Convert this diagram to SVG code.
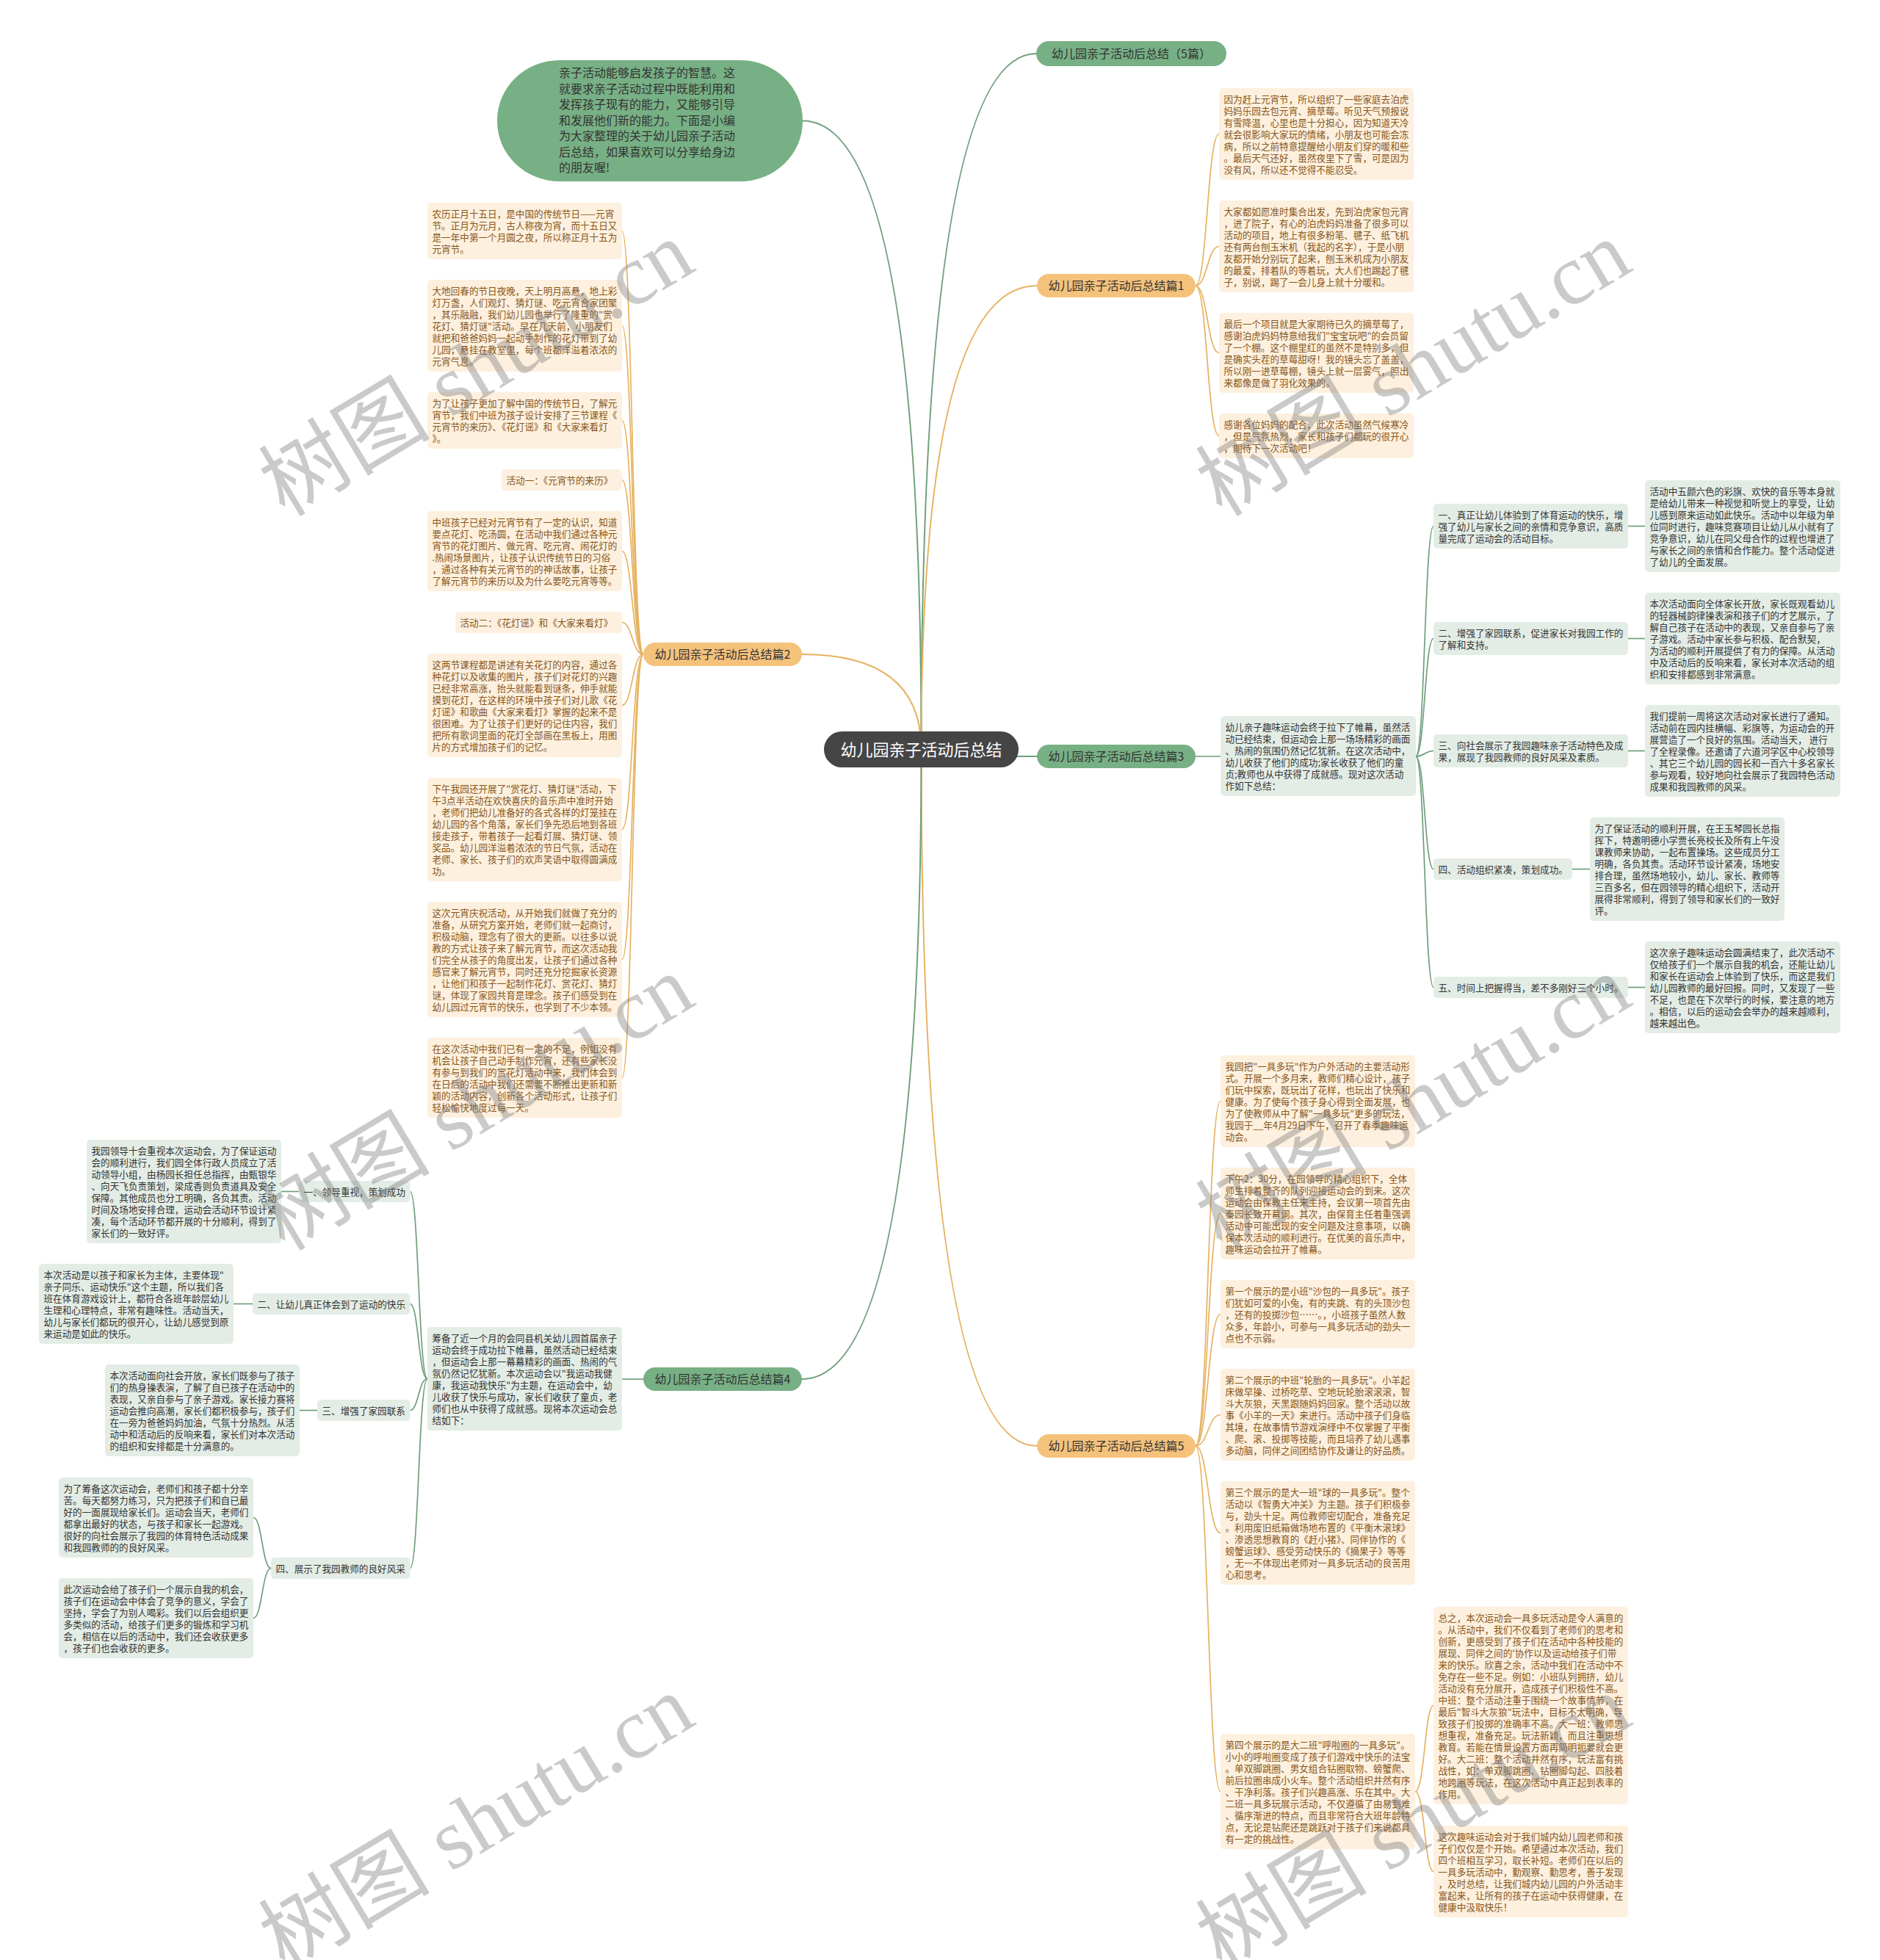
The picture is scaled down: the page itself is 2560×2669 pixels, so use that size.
<svg xmlns="http://www.w3.org/2000/svg" width="2560" height="2669" viewBox="0 0 2560 2669">
<style>
.t{font-family:"Noto Sans CJK SC","Noto Sans",sans-serif;font-size:12.6px}
.tb{fill:#87561b}
.tg{fill:#333333}
.bo{fill:#fdf0de}
.bg{fill:#e3ede6}
.no{fill:#f5c27c}
.ng{fill:#77b084}
.l1{font-family:"Noto Sans CJK SC","Noto Sans",sans-serif;font-size:16px;fill:#333333;text-anchor:middle}
.co{fill:none;stroke:#e6b260;stroke-width:1.7}
.cg{fill:none;stroke:#6f9f7c;stroke-width:1.7}
.co2{fill:none;stroke:#e6b260;stroke-width:2}
.cg2{fill:none;stroke:#6f9f7c;stroke-width:2}
.wm{font-family:"Liberation Serif","Noto Sans CJK SC",serif;font-size:117px;fill:#777777;opacity:0.38;text-anchor:middle}
</style>
<rect width="2560" height="2669" fill="#ffffff"/>
<g id="connectors">
<path class="cg2" d="M1093,164.5 Q1254.5,164.5 1254.5,1020.5"/>
<path class="cg2" d="M1411,73 Q1254.5,73 1254.5,1020.5"/>
<path class="co2" d="M1412,389 Q1254.5,389 1254.5,1020.5"/>
<path class="cg2" d="M1412,1030 Q1254.5,1030 1254.5,1020.5"/>
<path class="co2" d="M1412,1969 Q1254.5,1969 1254.5,1020.5"/>
<path class="co2" d="M1092,891 Q1254.5,891 1254.5,1020.5"/>
<path class="cg2" d="M1092,1878 Q1254.5,1878 1254.5,1020.5"/>
<path class="co" d="M1628,389 C1644,389 1644,182.5 1660,182.5"/>
<path class="co" d="M1628,389 C1644,389 1644,335.5 1660,335.5"/>
<path class="co" d="M1628,389 C1644,389 1644,480.5 1660,480.5"/>
<path class="co" d="M1628,389 C1644,389 1644,593.5 1660,593.5"/>
<path class="co" d="M876,891 C861,891 861,314.5 847,314.5"/>
<path class="co" d="M876,891 C861,891 861,443.5 847,443.5"/>
<path class="co" d="M876,891 C861,891 861,572.5 847,572.5"/>
<path class="co" d="M876,891 C861,891 861,653.5 847,653.5"/>
<path class="co" d="M876,891 C861,891 861,750.5 847,750.5"/>
<path class="co" d="M876,891 C861,891 861,847.5 847,847.5"/>
<path class="co" d="M876,891 C861,891 861,960.5 847,960.5"/>
<path class="co" d="M876,891 C861,891 861,1129.5 847,1129.5"/>
<path class="co" d="M876,891 C861,891 861,1306.5 847,1306.5"/>
<path class="co" d="M876,891 C861,891 861,1467.5 847,1467.5"/>
<path class="cg" d="M1628,1030 L1662,1030"/>
<path class="cg" d="M1928,1030 C1940,1030 1940,716.5 1952,716.5"/>
<path class="cg" d="M1928,1030 C1940,1030 1940,869.5 1952,869.5"/>
<path class="cg" d="M1928,1030 C1940,1030 1940,1022.5 1952,1022.5"/>
<path class="cg" d="M1928,1030 C1940,1030 1940,1183.5 1952,1183.5"/>
<path class="cg" d="M1928,1030 C1940,1030 1940,1344.5 1952,1344.5"/>
<path class="cg" d="M2217,716.5 L2240,716.5"/>
<path class="cg" d="M2217,869.5 L2240,869.5"/>
<path class="cg" d="M2217,1022.5 L2240,1022.5"/>
<path class="cg" d="M2141,1183.5 L2165,1183.5"/>
<path class="cg" d="M2217,1344.5 L2240,1344.5"/>
<path class="cg" d="M876,1878 L847,1878"/>
<path class="cg" d="M582,1877.5 C570,1877.5 570,1622.5 558.5,1622.5"/>
<path class="cg" d="M582,1877.5 C570,1877.5 570,1775.5 558.5,1775.5"/>
<path class="cg" d="M582,1877.5 C570,1877.5 570,1920.5 558.5,1920.5"/>
<path class="cg" d="M582,1877.5 C570,1877.5 570,2135.5 558.5,2135.5"/>
<path class="cg" d="M407,1622.5 L383,1622.5"/>
<path class="cg" d="M344,1775.5 L318,1775.5"/>
<path class="cg" d="M432,1920.5 L408,1920.5"/>
<path class="cg" d="M369,2135.5 C357,2135.5 357,2066.5 345,2066.5"/>
<path class="cg" d="M369,2135.5 C357,2135.5 357,2203.5 345,2203.5"/>
<path class="co" d="M1628,1969 C1645,1969 1645,1499.5 1662,1499.5"/>
<path class="co" d="M1628,1969 C1645,1969 1645,1652.5 1662,1652.5"/>
<path class="co" d="M1628,1969 C1645,1969 1645,1789.5 1662,1789.5"/>
<path class="co" d="M1628,1969 C1645,1969 1645,1926.5 1662,1926.5"/>
<path class="co" d="M1628,1969 C1645,1969 1645,2087.5 1662,2087.5"/>
<path class="co" d="M1628,1969 C1645,1969 1645,2439.5 1662,2439.5"/>
<path class="co" d="M1927,2439.5 C1940,2439.5 1940,2322.5 1952,2322.5"/>
<path class="co" d="M1927,2439.5 C1940,2439.5 1940,2548.5 1952,2548.5"/>
</g>

<g id="root">
<rect x="1122" y="996" width="265" height="49" rx="24.5" fill="#454545"/>
<text x="1254.5" y="1028.5" font-family="Noto Sans CJK SC,Noto Sans,sans-serif" font-size="22" fill="#ffffff" text-anchor="middle">幼儿园亲子活动后总结</text>
</g>

<g id="intro">
<rect x="677" y="82" width="416" height="165" rx="85" ry="82" class="ng"/>
<text class="tg" x="761" y="105" font-family="Noto Sans CJK SC,Noto Sans,sans-serif" font-size="16"><tspan x="761" dy="0">亲子活动能够启发孩子的智慧。这</tspan><tspan x="761" dy="21.5">就要求亲子活动过程中既能利用和</tspan><tspan x="761" dy="21.5">发挥孩子现有的能力，又能够引导</tspan><tspan x="761" dy="21.5">和发展他们新的能力。下面是小编</tspan><tspan x="761" dy="21.5">为大家整理的关于幼儿园亲子活动</tspan><tspan x="761" dy="21.5">后总结，如果喜欢可以分享给身边</tspan><tspan x="761" dy="21.5">的朋友喔!</tspan></text>
</g>

<g id="top5">
<rect x="1411" y="56" width="259" height="34" rx="17" class="ng"/>
<text class="l1" x="1540.5" y="78.8">幼儿园亲子活动后总结（5篇）</text>
</g>

<g id="pian1">
<rect x="1412" y="373" width="216" height="32" rx="16" class="no"/>
<text class="l1" x="1520" y="394.8">幼儿园亲子活动后总结篇1</text>
</g>
<g id="pian1-1">
<rect x="1660" y="120" width="265" height="125" rx="5" class="bo"/>
<text class="t tb" x="1666.5" y="139.5"><tspan x="1666.5" dy="0">因为赶上元宵节，所以组织了一些家庭去泊虎</tspan><tspan x="1666.5" dy="16">妈妈乐园去包元宵、摘草莓。听见天气预报说</tspan><tspan x="1666.5" dy="16">有雪降温，心里也是十分担心，因为知道天冷</tspan><tspan x="1666.5" dy="16">就会很影响大家玩的情绪，小朋友也可能会冻</tspan><tspan x="1666.5" dy="16">病，所以之前特意提醒给小朋友们穿的暖和些</tspan><tspan x="1666.5" dy="16">。最后天气还好，虽然夜里下了雪，可是因为</tspan><tspan x="1666.5" dy="16">没有风，所以还不觉得不能忍受。</tspan></text>
</g>
<g id="pian1-2">
<rect x="1660" y="273" width="265" height="125" rx="5" class="bo"/>
<text class="t tb" x="1666.5" y="292.5"><tspan x="1666.5" dy="0">大家都如愿准时集合出发，先到泊虎家包元宵</tspan><tspan x="1666.5" dy="16">，进了院子，有心的泊虎妈妈准备了很多可以</tspan><tspan x="1666.5" dy="16">活动的项目，地上有很多粉笔、毽子、纸飞机</tspan><tspan x="1666.5" dy="16">还有两台刨玉米机（我起的名字），于是小朋</tspan><tspan x="1666.5" dy="16">友都开始分别玩了起来，刨玉米机成为小朋友</tspan><tspan x="1666.5" dy="16">的最爱，排着队的等着玩，大人们也踢起了毽</tspan><tspan x="1666.5" dy="16">子，别说，踢了一会儿身上就十分暖和。</tspan></text>
</g>
<g id="pian1-3">
<rect x="1660" y="426" width="265" height="109" rx="5" class="bo"/>
<text class="t tb" x="1666.5" y="445.5"><tspan x="1666.5" dy="0">最后一个项目就是大家期待已久的摘草莓了，</tspan><tspan x="1666.5" dy="16">感谢泊虎妈妈特意给我们"宝宝玩吧"的会员留</tspan><tspan x="1666.5" dy="16">了一个棚。这个棚里红的虽然不是特别多，但</tspan><tspan x="1666.5" dy="16">是确实头茬的草莓甜呀！我的镜头忘了盖盖，</tspan><tspan x="1666.5" dy="16">所以刚一进草莓棚，镜头上就一层雾气，照出</tspan><tspan x="1666.5" dy="16">来都像是做了羽化效果的。</tspan></text>
</g>
<g id="pian1-4">
<rect x="1660" y="563" width="265" height="61" rx="5" class="bo"/>
<text class="t tb" x="1666.5" y="582.5"><tspan x="1666.5" dy="0">感谢各位妈妈的配合，此次活动虽然气候寒冷</tspan><tspan x="1666.5" dy="16">，但是气氛热烈，家长和孩子们都玩的很开心</tspan><tspan x="1666.5" dy="16">，期待下一次活动吧！</tspan></text>
</g>

<g id="pian2">
<rect x="876" y="875" width="216" height="32" rx="16" class="no"/>
<text class="l1" x="984" y="896.8">幼儿园亲子活动后总结篇2</text>
</g>
<g id="pian2-1">
<rect x="582" y="276" width="265" height="77" rx="5" class="bo"/>
<text class="t tb" x="588.5" y="295.5"><tspan x="588.5" dy="0">农历正月十五日，是中国的传统节日——元宵</tspan><tspan x="588.5" dy="16">节。正月为元月，古人称夜为宵，而十五日又</tspan><tspan x="588.5" dy="16">是一年中第一个月圆之夜，所以称正月十五为</tspan><tspan x="588.5" dy="16">元宵节。</tspan></text>
</g>
<g id="pian2-2">
<rect x="582" y="381" width="265" height="125" rx="5" class="bo"/>
<text class="t tb" x="588.5" y="400.5"><tspan x="588.5" dy="0">大地回春的节日夜晚，天上明月高悬，地上彩</tspan><tspan x="588.5" dy="16">灯万盏，人们观灯、猜灯谜、吃元宵合家团聚</tspan><tspan x="588.5" dy="16">，其乐融融，我们幼儿园也举行了隆重的"赏</tspan><tspan x="588.5" dy="16">花灯、猜灯谜"活动。早在几天前，小朋友们</tspan><tspan x="588.5" dy="16">就把和爸爸妈妈一起动手制作的花灯带到了幼</tspan><tspan x="588.5" dy="16">儿园，悬挂在教室里，每个班都洋溢着浓浓的</tspan><tspan x="588.5" dy="16">元宵气息。</tspan></text>
</g>
<g id="pian2-3">
<rect x="582" y="534" width="265" height="77" rx="5" class="bo"/>
<text class="t tb" x="588.5" y="553.5"><tspan x="588.5" dy="0">为了让孩子更加了解中国的传统节日，了解元</tspan><tspan x="588.5" dy="16">宵节，我们中班为孩子设计安排了三节课程《</tspan><tspan x="588.5" dy="16">元宵节的来历》、《花灯谣》和《大家来看灯</tspan><tspan x="588.5" dy="16">》。</tspan></text>
</g>
<g id="pian2-4">
<rect x="683" y="639" width="164" height="29" rx="5" class="bo"/>
<text class="t tb" x="689.5" y="658.5">活动一：《元宵节的来历》</text>
</g>
<g id="pian2-5">
<rect x="582" y="696" width="265" height="109" rx="5" class="bo"/>
<text class="t tb" x="588.5" y="715.5"><tspan x="588.5" dy="0">中班孩子已经对元宵节有了一定的认识，知道</tspan><tspan x="588.5" dy="16">要点花灯、吃汤圆，在活动中我们通过各种元</tspan><tspan x="588.5" dy="16">宵节的花灯图片、做元宵、吃元宵、闹花灯的</tspan><tspan x="588.5" dy="16">.热闹场景图片，让孩子认识传统节日的习俗</tspan><tspan x="588.5" dy="16">，通过各种有关元宵节的的神话故事，让孩子</tspan><tspan x="588.5" dy="16">了解元宵节的来历以及为什么要吃元宵等等。</tspan></text>
</g>
<g id="pian2-6">
<rect x="620" y="833" width="227" height="29" rx="5" class="bo"/>
<text class="t tb" x="626.5" y="852.5">活动二：《花灯谣》和《大家来看灯》</text>
</g>
<g id="pian2-7">
<rect x="582" y="890" width="265" height="141" rx="5" class="bo"/>
<text class="t tb" x="588.5" y="909.5"><tspan x="588.5" dy="0">这两节课程都是讲述有关花灯的内容，通过各</tspan><tspan x="588.5" dy="16">种花灯以及收集的图片，孩子们对花灯的兴趣</tspan><tspan x="588.5" dy="16">已经非常高涨，抬头就能看到谜条，伸手就能</tspan><tspan x="588.5" dy="16">摸到花灯，在这样的环境中孩子们对儿歌《花</tspan><tspan x="588.5" dy="16">灯谣》和歌曲《大家来看灯》掌握的起来不是</tspan><tspan x="588.5" dy="16">很困难。为了让孩子们更好的记住内容，我们</tspan><tspan x="588.5" dy="16">把所有歌词里面的花灯全部画在黑板上，用图</tspan><tspan x="588.5" dy="16">片的方式增加孩子们的记忆。</tspan></text>
</g>
<g id="pian2-8">
<rect x="582" y="1059" width="265" height="141" rx="5" class="bo"/>
<text class="t tb" x="588.5" y="1078.5"><tspan x="588.5" dy="0">下午我园还开展了"赏花灯、猜灯谜"活动，下</tspan><tspan x="588.5" dy="16">午3点半活动在欢快喜庆的音乐声中准时开始</tspan><tspan x="588.5" dy="16">，老师们把幼儿准备好的各式各样的灯笼挂在</tspan><tspan x="588.5" dy="16">幼儿园的各个角落，家长们争先恐后地到各班</tspan><tspan x="588.5" dy="16">接走孩子，带着孩子一起看灯展、猜灯谜、领</tspan><tspan x="588.5" dy="16">奖品。幼儿园洋溢着浓浓的节日气氛，活动在</tspan><tspan x="588.5" dy="16">老师、家长、孩子们的欢声笑语中取得圆满成</tspan><tspan x="588.5" dy="16">功。</tspan></text>
</g>
<g id="pian2-9">
<rect x="582" y="1228" width="265" height="157" rx="5" class="bo"/>
<text class="t tb" x="588.5" y="1247.5"><tspan x="588.5" dy="0">这次元宵庆祝活动，从开始我们就做了充分的</tspan><tspan x="588.5" dy="16">准备，从研究方案开始，老师们就一起商讨，</tspan><tspan x="588.5" dy="16">积极动脑，理念有了很大的更新。以往多以说</tspan><tspan x="588.5" dy="16">教的方式让孩子来了解元宵节，而这次活动我</tspan><tspan x="588.5" dy="16">们完全从孩子的角度出发，让孩子们通过各种</tspan><tspan x="588.5" dy="16">感官来了解元宵节，同时还充分挖掘家长资源</tspan><tspan x="588.5" dy="16">，让他们和孩子一起制作花灯、赏花灯、猜灯</tspan><tspan x="588.5" dy="16">谜，体现了家园共育是理念。孩子们感受到在</tspan><tspan x="588.5" dy="16">幼儿园过元宵节的快乐，也学到了不少本领。</tspan></text>
</g>
<g id="pian2-10">
<rect x="582" y="1413" width="265" height="109" rx="5" class="bo"/>
<text class="t tb" x="588.5" y="1432.5"><tspan x="588.5" dy="0">在这次活动中我们已有一定的不足，例如没有</tspan><tspan x="588.5" dy="16">机会让孩子自己动手制作元宵，还有些家长没</tspan><tspan x="588.5" dy="16">有参与到我们的赏花灯活动中来，我们体会到</tspan><tspan x="588.5" dy="16">在日后的活动中我们还需要不断推出更新和新</tspan><tspan x="588.5" dy="16">颖的活动内容，创新各个活动形式，让孩子们</tspan><tspan x="588.5" dy="16">轻松愉快地度过每一天。</tspan></text>
</g>

<g id="pian3">
<rect x="1412" y="1014" width="216" height="32" rx="16" class="ng"/>
<text class="l1" x="1520" y="1035.8">幼儿园亲子活动后总结篇3</text>
</g>
<g id="pian3-desc">
<rect x="1662" y="975" width="266" height="109" rx="5" class="bg"/>
<text class="t tg" x="1668.5" y="994.5"><tspan x="1668.5" dy="0">幼儿亲子趣味运动会终于拉下了帷幕，虽然活</tspan><tspan x="1668.5" dy="16">动已经结束，但运动会上那一场场精彩的画面</tspan><tspan x="1668.5" dy="16">、热闹的氛围仍然记忆犹新。在这次活动中，</tspan><tspan x="1668.5" dy="16">幼儿收获了他们的成功;家长收获了他们的童</tspan><tspan x="1668.5" dy="16">贞;教师也从中获得了成就感。现对这次活动</tspan><tspan x="1668.5" dy="16">作如下总结：</tspan></text>
</g>
<g id="pian3-i1">
<rect x="1952" y="686" width="265" height="61" rx="5" class="bg"/>
<text class="t tg" x="1958.5" y="705.5"><tspan x="1958.5" dy="0">一、真正让幼儿体验到了体育运动的快乐，增</tspan><tspan x="1958.5" dy="16">强了幼儿与家长之间的亲情和竞争意识，高质</tspan><tspan x="1958.5" dy="16">量完成了运动会的活动目标。</tspan></text>
</g>
<g id="pian3-i2">
<rect x="1952" y="847" width="265" height="45" rx="5" class="bg"/>
<text class="t tg" x="1958.5" y="866.5"><tspan x="1958.5" dy="0">二、增强了家园联系，促进家长对我园工作的</tspan><tspan x="1958.5" dy="16">了解和支持。</tspan></text>
</g>
<g id="pian3-i3">
<rect x="1952" y="1000" width="265" height="45" rx="5" class="bg"/>
<text class="t tg" x="1958.5" y="1019.5"><tspan x="1958.5" dy="0">三、向社会展示了我园趣味亲子活动特色及成</tspan><tspan x="1958.5" dy="16">果，展现了我园教师的良好风采及素质。</tspan></text>
</g>
<g id="pian3-i4">
<rect x="1952" y="1169" width="189" height="29" rx="5" class="bg"/>
<text class="t tg" x="1958.5" y="1188.5">四、活动组织紧凑，策划成功。</text>
</g>
<g id="pian3-i5">
<rect x="1952" y="1330" width="265" height="29" rx="5" class="bg"/>
<text class="t tg" x="1958.5" y="1349.5">五、时间上把握得当，差不多刚好三个小时。</text>
</g>
<g id="pian3-d1">
<rect x="2240" y="654" width="266" height="125" rx="5" class="bg"/>
<text class="t tg" x="2246.5" y="673.5"><tspan x="2246.5" dy="0">活动中五颜六色的彩旗、欢快的音乐等本身就</tspan><tspan x="2246.5" dy="16">是给幼儿带来一种视觉和听觉上的享受，让幼</tspan><tspan x="2246.5" dy="16">儿感到原来运动如此快乐。活动中以年级为单</tspan><tspan x="2246.5" dy="16">位同时进行，趣味竞赛项目让幼儿从小就有了</tspan><tspan x="2246.5" dy="16">竞争意识，幼儿在同父母合作的过程也增进了</tspan><tspan x="2246.5" dy="16">与家长之间的亲情和合作能力。整个活动促进</tspan><tspan x="2246.5" dy="16">了幼儿的全面发展。</tspan></text>
</g>
<g id="pian3-d2">
<rect x="2240" y="807" width="266" height="125" rx="5" class="bg"/>
<text class="t tg" x="2246.5" y="826.5"><tspan x="2246.5" dy="0">本次活动面向全体家长开放，家长既观看幼儿</tspan><tspan x="2246.5" dy="16">的轻器械韵律操表演和孩子们的才艺展示，了</tspan><tspan x="2246.5" dy="16">解自己孩子在活动中的表现，又亲自参与了亲</tspan><tspan x="2246.5" dy="16">子游戏。活动中家长参与积极、配合默契，</tspan><tspan x="2246.5" dy="16">为活动的顺利开展提供了有力的保障。从活动</tspan><tspan x="2246.5" dy="16">中及活动后的反响来看，家长对本次活动的组</tspan><tspan x="2246.5" dy="16">织和安排都感到非常满意。</tspan></text>
</g>
<g id="pian3-d3">
<rect x="2240" y="960" width="266" height="125" rx="5" class="bg"/>
<text class="t tg" x="2246.5" y="979.5"><tspan x="2246.5" dy="0">我们提前一周将这次活动对家长进行了通知。</tspan><tspan x="2246.5" dy="16">活动前在园内挂横幅、彩旗等，为运动会的开</tspan><tspan x="2246.5" dy="16">展营造了一个良好的氛围。活动当天，  进行</tspan><tspan x="2246.5" dy="16">了全程录像。还邀请了六道河学区中心校领导</tspan><tspan x="2246.5" dy="16">、其它三个幼儿园的园长和一百六十多名家长</tspan><tspan x="2246.5" dy="16">参与观看，较好地向社会展示了我园特色活动</tspan><tspan x="2246.5" dy="16">成果和我园教师的风采。</tspan></text>
</g>
<g id="pian3-d4">
<rect x="2165" y="1113" width="265" height="141" rx="5" class="bg"/>
<text class="t tg" x="2171.5" y="1132.5"><tspan x="2171.5" dy="0">为了保证活动的顺利开展，在王玉琴园长总指</tspan><tspan x="2171.5" dy="16">挥下，特邀明德小学贾长亮校长及所有上午没</tspan><tspan x="2171.5" dy="16">课教师来协助，一起布置操场。这些成员分工</tspan><tspan x="2171.5" dy="16">明确，各负其责。活动环节设计紧凑，场地安</tspan><tspan x="2171.5" dy="16">排合理，虽然场地较小，幼儿、家长、教师等</tspan><tspan x="2171.5" dy="16">三百多名，但在园领导的精心组织下，活动开</tspan><tspan x="2171.5" dy="16">展得非常顺利，得到了领导和家长们的一致好</tspan><tspan x="2171.5" dy="16">评。</tspan></text>
</g>
<g id="pian3-d5">
<rect x="2240" y="1282" width="266" height="125" rx="5" class="bg"/>
<text class="t tg" x="2246.5" y="1301.5"><tspan x="2246.5" dy="0">这次亲子趣味运动会圆满结束了，此次活动不</tspan><tspan x="2246.5" dy="16">仅给孩子们一个展示自我的机会，还能让幼儿</tspan><tspan x="2246.5" dy="16">和家长在运动会上体验到了快乐，而这是我们</tspan><tspan x="2246.5" dy="16">幼儿园教师的最好回报。同时，又发现了一些</tspan><tspan x="2246.5" dy="16">不足，也是在下次举行的时候，要注意的地方</tspan><tspan x="2246.5" dy="16">。相信，以后的运动会会举办的越来越顺利，</tspan><tspan x="2246.5" dy="16">越来越出色。</tspan></text>
</g>

<g id="pian4">
<rect x="876" y="1862" width="216" height="32" rx="16" class="ng"/>
<text class="l1" x="984" y="1883.8">幼儿园亲子活动后总结篇4</text>
</g>
<g id="pian4-desc">
<rect x="582" y="1807" width="265" height="141" rx="5" class="bg"/>
<text class="t tg" x="588.5" y="1826.5"><tspan x="588.5" dy="0">筹备了近一个月的会同县机关幼儿园首届亲子</tspan><tspan x="588.5" dy="16">运动会终于成功拉下帷幕，虽然活动已经结束</tspan><tspan x="588.5" dy="16">，但运动会上那一幕幕精彩的画面、热闹的气</tspan><tspan x="588.5" dy="16">氛仍然记忆犹新。本次运动会以"我运动我健</tspan><tspan x="588.5" dy="16">康，我运动我快乐"为主题，在运动会中，幼</tspan><tspan x="588.5" dy="16">儿收获了快乐与成功，家长们收获了童贞，老</tspan><tspan x="588.5" dy="16">师们也从中获得了成就感。现将本次运动会总</tspan><tspan x="588.5" dy="16">结如下：</tspan></text>
</g>
<g id="pian4-i1">
<rect x="407" y="1608" width="151.5" height="29" rx="5" class="bg"/>
<text class="t tg" x="413.5" y="1627.5">一、领导重视，策划成功</text>
</g>
<g id="pian4-i2">
<rect x="344" y="1761" width="214.5" height="29" rx="5" class="bg"/>
<text class="t tg" x="350.5" y="1780.5">二、让幼儿真正体会到了运动的快乐</text>
</g>
<g id="pian4-i3">
<rect x="432" y="1906" width="126.5" height="29" rx="5" class="bg"/>
<text class="t tg" x="438.5" y="1925.5">三、增强了家园联系</text>
</g>
<g id="pian4-i4">
<rect x="369" y="2121" width="189.5" height="29" rx="5" class="bg"/>
<text class="t tg" x="375.5" y="2140.5">四、展示了我园教师的良好风采</text>
</g>
<g id="pian4-d1">
<rect x="118" y="1552" width="265" height="141" rx="5" class="bg"/>
<text class="t tg" x="124.5" y="1571.5"><tspan x="124.5" dy="0">我园领导十会重视本次运动会，为了保证运动</tspan><tspan x="124.5" dy="16">会的顺利进行，我们园全体行政人员成立了活</tspan><tspan x="124.5" dy="16">动领导小组，由杨园长担任总指挥，由甄银华</tspan><tspan x="124.5" dy="16">、向天飞负责策划，梁成香则负责道具及安全</tspan><tspan x="124.5" dy="16">保障。其他成员也分工明确，各负其责。活动</tspan><tspan x="124.5" dy="16">时间及场地安排合理，运动会活动环节设计紧</tspan><tspan x="124.5" dy="16">凑，每个活动环节都开展的十分顺利，得到了</tspan><tspan x="124.5" dy="16">家长们的一致好评。</tspan></text>
</g>
<g id="pian4-d2">
<rect x="53" y="1721" width="265" height="109" rx="5" class="bg"/>
<text class="t tg" x="59.5" y="1740.5"><tspan x="59.5" dy="0">本次活动是以孩子和家长为主体，主要体现"</tspan><tspan x="59.5" dy="16">亲子同乐、运动快乐"这个主题，所以我们各</tspan><tspan x="59.5" dy="16">班在体育游戏设计上，都符合各班年龄层幼儿</tspan><tspan x="59.5" dy="16">生理和心理特点，非常有趣味性。活动当天，</tspan><tspan x="59.5" dy="16">幼儿与家长们都玩的很开心，让幼儿感觉到原</tspan><tspan x="59.5" dy="16">来运动是如此的快乐。</tspan></text>
</g>
<g id="pian4-d3">
<rect x="143" y="1858" width="265" height="125" rx="5" class="bg"/>
<text class="t tg" x="149.5" y="1877.5"><tspan x="149.5" dy="0">本次活动面向社会开放，家长们既参与了孩子</tspan><tspan x="149.5" dy="16">们的热身操表演，了解了自已孩子在活动中的</tspan><tspan x="149.5" dy="16">表现，又亲自参与了亲子游戏。家长接力赛将</tspan><tspan x="149.5" dy="16">运动会推向高潮，家长们都积极参与，孩子们</tspan><tspan x="149.5" dy="16">在一旁为爸爸妈妈加油，气氛十分热烈。从活</tspan><tspan x="149.5" dy="16">动中和活动后的反响来看，家长们对本次活动</tspan><tspan x="149.5" dy="16">的组织和安排都是十分满意的。</tspan></text>
</g>
<g id="pian4-d4">
<rect x="80" y="2012" width="265" height="109" rx="5" class="bg"/>
<text class="t tg" x="86.5" y="2031.5"><tspan x="86.5" dy="0">为了筹备这次运动会，老师们和孩子都十分辛</tspan><tspan x="86.5" dy="16">苦。每天都努力练习，只为把孩子们和自已最</tspan><tspan x="86.5" dy="16">好的一面展现给家长们。运动会当天，老师们</tspan><tspan x="86.5" dy="16">都拿出最好的状态，与孩子和家长一起游戏。</tspan><tspan x="86.5" dy="16">很好的向社会展示了我园的体育特色活动成果</tspan><tspan x="86.5" dy="16">和我园教师的的良好风采。</tspan></text>
</g>
<g id="pian4-d5">
<rect x="80" y="2149" width="265" height="109" rx="5" class="bg"/>
<text class="t tg" x="86.5" y="2168.5"><tspan x="86.5" dy="0">此次运动会给了孩子们一个展示自我的机会，</tspan><tspan x="86.5" dy="16">孩子们在运动会中体会了竞争的意义，学会了</tspan><tspan x="86.5" dy="16">坚持，学会了为别人喝彩。我们以后会组织更</tspan><tspan x="86.5" dy="16">多类似的活动，给孩子们更多的锻炼和学习机</tspan><tspan x="86.5" dy="16">会，相信在以后的活动中，我们还会收获更多</tspan><tspan x="86.5" dy="16">，孩子们也会收获的更多。</tspan></text>
</g>

<g id="pian5">
<rect x="1412" y="1953" width="216" height="32" rx="16" class="no"/>
<text class="l1" x="1520" y="1974.8">幼儿园亲子活动后总结篇5</text>
</g>
<g id="pian5-1">
<rect x="1662" y="1437" width="265" height="125" rx="5" class="bo"/>
<text class="t tb" x="1668.5" y="1456.5"><tspan x="1668.5" dy="0">我园把"一具多玩"作为户外活动的主要活动形</tspan><tspan x="1668.5" dy="16">式。开展一个多月来，教师们精心设计，孩子</tspan><tspan x="1668.5" dy="16">们玩中探索，既玩出了花样，也玩出了快乐和</tspan><tspan x="1668.5" dy="16">健康。为了使每个孩子身心得到全面发展，也</tspan><tspan x="1668.5" dy="16">为了使教师从中了解"一具多玩"更多的玩法，</tspan><tspan x="1668.5" dy="16">我园于__年4月29日下午，召开了春季趣味运</tspan><tspan x="1668.5" dy="16">动会。</tspan></text>
</g>
<g id="pian5-2">
<rect x="1662" y="1590" width="265" height="125" rx="5" class="bo"/>
<text class="t tb" x="1668.5" y="1609.5"><tspan x="1668.5" dy="0">下午2：30分，在园领导的精心组织下，全体</tspan><tspan x="1668.5" dy="16">师生排着整齐的队列迎接运动会的到来。这次</tspan><tspan x="1668.5" dy="16">运动会由保教主任来主持，会议第一项首先由</tspan><tspan x="1668.5" dy="16">秦园长致开幕词。其次，由保育主任着重强调</tspan><tspan x="1668.5" dy="16">活动中可能出现的安全问题及注意事项，以确</tspan><tspan x="1668.5" dy="16">保本次活动的顺利进行。在优美的音乐声中，</tspan><tspan x="1668.5" dy="16">趣味运动会拉开了帷幕。</tspan></text>
</g>
<g id="pian5-3">
<rect x="1662" y="1743" width="265" height="93" rx="5" class="bo"/>
<text class="t tb" x="1668.5" y="1762.5"><tspan x="1668.5" dy="0">第一个展示的是小班"沙包的一具多玩"。孩子</tspan><tspan x="1668.5" dy="16">们犹如可爱的小兔，有的夹跳、有的头顶沙包</tspan><tspan x="1668.5" dy="16">，还有的投掷沙包……。，小班孩子虽然人数</tspan><tspan x="1668.5" dy="16">众多，年龄小，可参与一具多玩活动的劲头一</tspan><tspan x="1668.5" dy="16">点也不示弱。</tspan></text>
</g>
<g id="pian5-4">
<rect x="1662" y="1864" width="265" height="125" rx="5" class="bo"/>
<text class="t tb" x="1668.5" y="1883.5"><tspan x="1668.5" dy="0">第二个展示的中班"轮胎的一具多玩"。小羊起</tspan><tspan x="1668.5" dy="16">床做早操、过桥吃草、空地玩轮胎滚滚滚，智</tspan><tspan x="1668.5" dy="16">斗大灰狼，天黑跟随妈妈回家。整个活动以故</tspan><tspan x="1668.5" dy="16">事《小羊的一天》来进行。活动中孩子们身临</tspan><tspan x="1668.5" dy="16">其境，在故事情节游戏演绎中不仅掌握了平衡</tspan><tspan x="1668.5" dy="16">、爬、滚、投掷等技能，而且培养了幼儿遇事</tspan><tspan x="1668.5" dy="16">多动脑，同伴之间团结协作及谦让的好品质。</tspan></text>
</g>
<g id="pian5-5">
<rect x="1662" y="2017" width="265" height="141" rx="5" class="bo"/>
<text class="t tb" x="1668.5" y="2036.5"><tspan x="1668.5" dy="0">第三个展示的是大一班"球的一具多玩"。整个</tspan><tspan x="1668.5" dy="16">活动以《智勇大冲关》为主题。孩子们积极参</tspan><tspan x="1668.5" dy="16">与，劲头十足。两位教师密切配合，准备充足</tspan><tspan x="1668.5" dy="16">。利用废旧纸箱做场地布置的《平衡木滚球》</tspan><tspan x="1668.5" dy="16">、渗透思想教育的《赶小猪》、同伴协作的《</tspan><tspan x="1668.5" dy="16">螃蟹运球》、感受劳动快乐的《摘果子》等等</tspan><tspan x="1668.5" dy="16">，无一不体现出老师对一具多玩活动的良苦用</tspan><tspan x="1668.5" dy="16">心和思考。</tspan></text>
</g>
<g id="pian5-6">
<rect x="1662" y="2361" width="265" height="157" rx="5" class="bo"/>
<text class="t tb" x="1668.5" y="2380.5"><tspan x="1668.5" dy="0">第四个展示的是大二班"呼啦圈的一具多玩"。</tspan><tspan x="1668.5" dy="16">小小的呼啦圈变成了孩子们游戏中快乐的法宝</tspan><tspan x="1668.5" dy="16">。单双脚跳圈、男女组合钻圈取物、螃蟹爬、</tspan><tspan x="1668.5" dy="16">前后拉圈串成小火车。整个活动组织井然有序</tspan><tspan x="1668.5" dy="16">、干净利落。孩子们兴趣高涨、乐在其中。大</tspan><tspan x="1668.5" dy="16">二班一具多玩展示活动，不仅遵循了由易到难</tspan><tspan x="1668.5" dy="16">、循序渐进的特点，而且非常符合大班年龄特</tspan><tspan x="1668.5" dy="16">点，无论是钻爬还是跳跃对于孩子们来说都具</tspan><tspan x="1668.5" dy="16">有一定的挑战性。</tspan></text>
</g>
<g id="pian5-6-1">
<rect x="1952" y="2188" width="265" height="269" rx="5" class="bo"/>
<text class="t tb" x="1958.5" y="2207.5"><tspan x="1958.5" dy="0">总之，本次运动会一具多玩活动是令人满意的</tspan><tspan x="1958.5" dy="16">。从活动中，我们不仅看到了老师们的思考和</tspan><tspan x="1958.5" dy="16">创新，更感受到了孩子们在活动中各种技能的</tspan><tspan x="1958.5" dy="16">展现、同伴之间的'协作以及运动给孩子们带</tspan><tspan x="1958.5" dy="16">来的快乐。欣喜之余，活动中我们在活动中不</tspan><tspan x="1958.5" dy="16">免存在一些不足。例如：小班队列拥挤，幼儿</tspan><tspan x="1958.5" dy="16">活动没有充分展开，造成孩子们积极性不高。</tspan><tspan x="1958.5" dy="16">中班：整个活动注重于围绕一个故事情节，在</tspan><tspan x="1958.5" dy="16">最后"智斗大灰狼"玩法中，目标不太明确，导</tspan><tspan x="1958.5" dy="16">致孩子们投掷的准确率不高。大一班：教师思</tspan><tspan x="1958.5" dy="16">想重视，准备充足。玩法新颖，而且注重思想</tspan><tspan x="1958.5" dy="16">教育。若能在情景设置方面再简明扼要就会更</tspan><tspan x="1958.5" dy="16">好。大二班：整个活动井然有序，玩法富有挑</tspan><tspan x="1958.5" dy="16">战性，如：单双脚跳圈、钻圈脚勾起、四肢着</tspan><tspan x="1958.5" dy="16">地跨圈等玩法，在这次活动中真正起到表率的</tspan><tspan x="1958.5" dy="16">作用。</tspan></text>
</g>
<g id="pian5-6-2">
<rect x="1952" y="2486" width="265" height="125" rx="5" class="bo"/>
<text class="t tb" x="1958.5" y="2505.5"><tspan x="1958.5" dy="0">这次趣味运动会对于我们城内幼儿园老师和孩</tspan><tspan x="1958.5" dy="16">子们仅仅是个开始。希望通过本次活动，我们</tspan><tspan x="1958.5" dy="16">四个班相互学习，取长补短。老师们在以后的</tspan><tspan x="1958.5" dy="16">一具多玩活动中，勤观察、勤思考，善于发现</tspan><tspan x="1958.5" dy="16">，及时总结，让我们城内幼儿园的户外活动丰</tspan><tspan x="1958.5" dy="16">富起来，让所有的孩子在运动中获得健康，在</tspan><tspan x="1958.5" dy="16">健康中汲取快乐！</tspan></text>
</g>

<g id="watermarks">
<text class="wm" transform="translate(669,536) rotate(-31)">树图 shutu.cn</text>
<text class="wm" transform="translate(1945,536) rotate(-31)">树图 shutu.cn</text>
<text class="wm" transform="translate(669,1536) rotate(-31)">树图 shutu.cn</text>
<text class="wm" transform="translate(1945,1536) rotate(-31)">树图 shutu.cn</text>
<text class="wm" transform="translate(669,2516) rotate(-31)">树图 shutu.cn</text>
<text class="wm" transform="translate(1945,2516) rotate(-31)">树图 shutu.cn</text>
</g>
</svg>
